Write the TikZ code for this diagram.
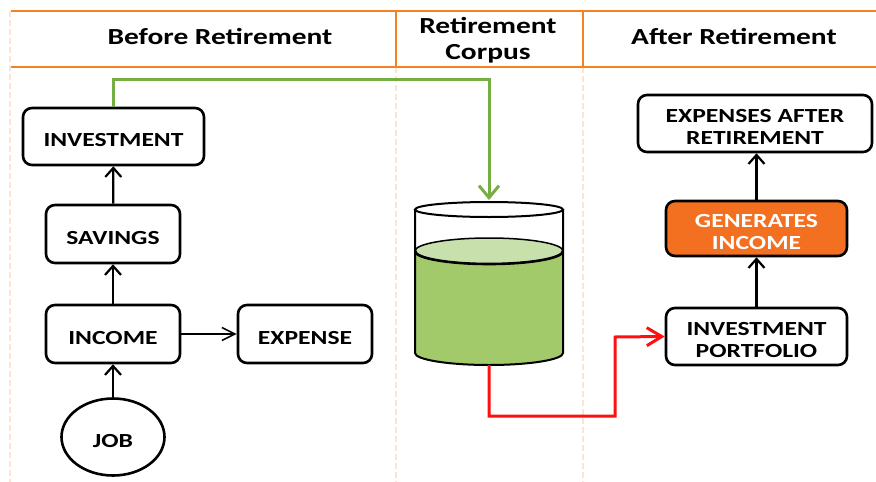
\documentclass[tikz,border=0pt]{standalone}
\usepackage{fontspec}
\setmainfont{Carlito}[FakeStretch=1.28]
\usetikzlibrary{arrows.meta,shapes.geometric}
\definecolor{hdrorange}{HTML}{F58220}
\definecolor{paleorange}{HTML}{FCE3D3}
\definecolor{arrgreen}{HTML}{77AE43}
\definecolor{liquid}{HTML}{A2C96A}
\definecolor{surface}{HTML}{C8E0AC}
\definecolor{genorange}{HTML}{F37021}
\definecolor{arrred}{HTML}{FF1010}
\tikzset{
  box/.style={draw=black, line width=2.6pt, rounded corners=9pt, fill=white,
    inner sep=0pt, align=center, font=\fontsize{20}{22}\selectfont\bfseries,
    text height=20pt, text depth=0pt},
  twoline/.style={text height=41pt, text depth=0pt},
  hdr/.style={align=center, font=\fontsize{23}{25.5}\selectfont\bfseries},
  hdrline/.style={draw=hdrorange, line width=2.6pt},
  sepline/.style={draw=paleorange, line width=2.6pt, dash pattern=on 6pt off 3pt},
  flow/.style={draw=black, line width=2.2pt, -{Straight Barb[length=9pt,width=16pt,line width=2.2pt]}},
  thinflow/.style={draw=black, line width=1.6pt, -{Straight Barb[length=13pt,width=13pt,line width=1.6pt]}},
  greenflow/.style={draw=arrgreen, line width=3pt, -{Straight Barb[length=12pt,width=20pt,line width=3pt]}},
  redflow/.style={draw=arrred, line width=3pt, -{Straight Barb[length=15pt,width=18pt,line width=3pt]}},
  cyl/.style={draw=black, line width=2pt}
}
\begin{document}
\begin{tikzpicture}[x=1pt, y=-1pt]
\useasboundingbox (0,0) rectangle (876,482);
% separators
\draw[sepline] (10,11) -- (10,482);
\draw[sepline] (396,67) -- (396,482);
\draw[sepline] (583,67) -- (583,482);
% header
\draw[hdrline] (11,11) -- (876,11);
\draw[hdrline] (11,67) -- (876,67);
\draw[hdrline] (396,11) -- (396,67);
\draw[hdrline] (583,11) -- (583,67);
\node[hdr] (h1) at (220,36) {Before Retirement};
\node[hdr] (h2) at (488,40) {Retirement\\Corpus};
\node[hdr] (h3) at (734,36) {After Retirement};
% left column
\node[box, minimum width=181pt, minimum height=57pt] (inv) at (113.5,136.5) {INVESTMENT};
\node[box, minimum width=134pt, minimum height=58pt] (sav) at (113,234) {SAVINGS};
\node[box, minimum width=134pt, minimum height=58pt] (inc) at (113,334) {INCOME};
\node[box, minimum width=134pt, minimum height=58pt] (exp) at (305,334) {EXPENSE};
\node[box, ellipse, rounded corners=0pt, minimum width=103pt, minimum height=77pt] (job) at (113,437) {JOB};
\draw[flow] (job) -- (inc);
\draw[flow] (inc) -- (sav);
\draw[flow] (sav) -- (inv);
\draw[thinflow] (inc) -- (exp);
% cylinder
\fill[liquid] (415,251) rectangle (563,353);
\fill[liquid] (489,353) ellipse [x radius=74, y radius=12];
\fill[surface] (489,251) ellipse [x radius=74, y radius=13];
\draw[cyl] (415,209.5) -- (415,353) arc[start angle=180, end angle=0, x radius=74, y radius=12] -- (563,209.5);
\draw[cyl] (489,209.5) ellipse [x radius=74, y radius=7.5];
\draw[cyl, line width=1.5pt] (489,251) ellipse [x radius=74, y radius=13];
\draw[cyl, line width=2.6pt] (415,251) arc[start angle=180, end angle=0, x radius=74, y radius=13];
\coordinate (cyltop) at (489,200);
\coordinate (cylbot) at (489,365);
% right column
\node[box, twoline, minimum width=234pt, minimum height=57pt] (ear) at (755,123.5) {EXPENSES AFTER\\RETIREMENT};
\node[box, twoline, fill=genorange, text=white, minimum width=181pt, minimum height=55pt] (gen) at (756.5,228.5) {GENERATES\\INCOME};
\node[box, twoline, minimum width=181pt, minimum height=57pt] (port) at (756.5,336.5) {INVESTMENT\\PORTFOLIO};
\draw[flow] (port) -- (gen);
\draw[flow] (gen) -- (gen |- ear.south);
% connectors
\draw[greenflow] (inv.north) -- ++(0,-27) -| (cyltop);
\draw[redflow] (cylbot) -- ++(0,51) -| (615,337) -- (port.west);
\end{tikzpicture}
\end{document}
